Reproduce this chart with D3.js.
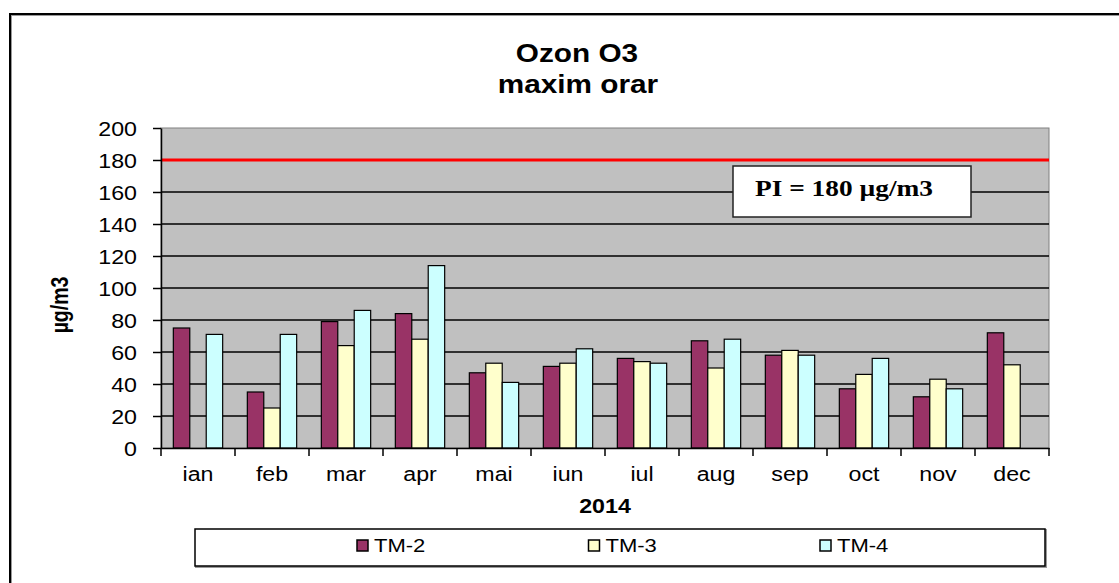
<!DOCTYPE html>
<html>
<head>
<meta charset="utf-8">
<script src="https://cdn.jsdelivr.net/npm/d3@7"></script>
<style>
  body { margin: 0; background: #fff; }
  svg { display: block; font-family: Arial, "Liberation Sans", sans-serif; }
</style>
</head>
<body>
<svg width="1119" height="583"></svg>
<script>
// data
var months = ['ian', 'feb', 'mar', 'apr', 'mai', 'iun', 'iul', 'aug', 'sep', 'oct', 'nov', 'dec'];
var seriesNames = ['TM-2', 'TM-3', 'TM-4'];
var tm2 = [75, 35, 79, 84, 47, 51, 56, 67, 58, 37, 32, 72];
var tm3 = [null, 25, 64, 68, 53, 53, 54, 50, 61, 46, 43, 52];
var tm4 = [71, 71, 86, 114, 41, 62, 53, 68, 58, 56, 37, null];
var yTicks = [0, 20, 40, 60, 80, 100, 120, 140, 160, 180, 200];
var limitValue = 180;
var limitLabel = 'PI = 180 \u00B5g/m3';

var colors = {'TM-2': '#993366', 'TM-3': '#FFFFCC', 'TM-4': '#CCFFFF'};
var sx = 1.19; // the original picture is stretched sideways

var svg = d3.select('svg');
var plot = {l: 161, r: 1049, t: 128, b: 448};

// outer chart frame
svg.append('rect')
  .attr('x', 11).attr('y', 15).attr('width', 1200).attr('height', 700)
  .attr('fill', 'none').attr('stroke', '#999').attr('stroke-width', 2);
svg.append('rect')
  .attr('x', 10).attr('y', 14).attr('width', 1200).attr('height', 700)
  .attr('fill', 'none').attr('stroke', '#000').attr('stroke-width', 2);

var xScale = d3.scaleBand()
  .domain(months)
  .range([plot.l, plot.r]);

var xInner = d3.scaleBand()
  .domain(seriesNames)
  .range([0, xScale.bandwidth()])
  .paddingInner(0)
  .paddingOuter(0.75);

var yScale = d3.scaleLinear()
  .domain([0, 200])
  .range([plot.b, plot.t]);

function stretchedText(sel, x, y, txt) {
  return sel.append('text')
    .attr('transform', 'translate(' + [x, y] + ') scale(' + sx + ',1)')
    .text(txt);
}

// title
var title = svg.append('g').attr('font-weight', 'bold').attr('font-size', 25).attr('text-anchor', 'middle');
stretchedText(title, 577, 62, 'Ozon O3');
stretchedText(title, 578, 93, 'maxim orar');

// plot area
svg.append('rect')
  .attr('x', plot.l).attr('y', plot.t)
  .attr('width', plot.r - plot.l).attr('height', plot.b - plot.t)
  .attr('fill', '#C0C0C0').attr('stroke', '#808080').attr('stroke-width', 1);

svg.append('g')
  .selectAll('line')
  .data(yTicks.filter(d => d > 0 && d < 200))
  .enter()
  .append('line')
  .attr('x1', plot.l).attr('x2', plot.r)
  .attr('y1', d => yScale(d)).attr('y2', d => yScale(d))
  .attr('stroke', '#000').attr('stroke-width', 1.5);

// limit line
svg.append('line')
  .attr('x1', plot.l).attr('x2', plot.r)
  .attr('y1', yScale(limitValue)).attr('y2', yScale(limitValue))
  .attr('stroke', '#FF0000').attr('stroke-width', 3);

// bars
var rows = months.map(function(m, i) {
  return {month: m, values: [tm2[i], tm3[i], tm4[i]]};
});

var groups = svg.append('g').selectAll('g.month')
  .data(rows)
  .enter()
  .append('g')
  .attr('class', 'month')
  .attr('transform', d => 'translate(' + xScale(d.month) + ',0)');

groups.selectAll('rect')
  .data(d => d.values.map((v, j) => ({name: seriesNames[j], value: v})).filter(e => e.value != null))
  .enter()
  .append('rect')
  .attr('x', d => xInner(d.name))
  .attr('y', d => yScale(d.value))
  .attr('width', xInner.bandwidth())
  .attr('height', d => yScale(0) - yScale(d.value))
  .attr('fill', d => colors[d.name])
  .attr('stroke', '#000').attr('stroke-width', 1.2);

// PI box
svg.append('rect')
  .attr('x', 733).attr('y', 166).attr('width', 238).attr('height', 51)
  .attr('fill', '#fff').attr('stroke', '#222').attr('stroke-width', 1.5);
svg.append('text')
  .attr('transform', 'translate(755,196) scale(' + sx + ',1)')
  .attr('font-family', '"Liberation Serif", "Times New Roman", serif')
  .attr('font-weight', 'bold').attr('font-size', 23)
  .text(limitLabel);

// axes
var yAxis = svg.append('g')
  .attr('transform', 'translate(' + plot.l + ',0)')
  .call(d3.axisLeft(yScale).tickValues(yTicks).tickSize(8).tickSizeOuter(0));
yAxis.select('.domain').attr('stroke-width', 1.5);
yAxis.selectAll('.tick line').attr('stroke-width', 1.5);
yAxis.selectAll('.tick text')
  .attr('x', -24 / sx)
  .attr('dy', '0.36em')
  .attr('transform', 'scale(' + sx + ',1)')
  .attr('font-size', 19.5)
  .attr('font-family', 'Arial, "Liberation Sans", sans-serif')
  .attr('fill', '#000');

var xAxis = svg.append('g')
  .attr('transform', 'translate(0,' + plot.b + ')')
  .call(d3.axisBottom(xScale).tickSize(0).tickSizeOuter(0));
xAxis.select('.domain').attr('stroke-width', 1.5);
xAxis.selectAll('.tick text')
  .attr('y', 33).attr('dy', 0)
  .attr('transform', 'scale(' + sx + ',1)')
  .attr('font-size', 19.5)
  .attr('font-family', 'Arial, "Liberation Sans", sans-serif')
  .attr('fill', '#000');

// category boundary ticks
svg.append('g')
  .selectAll('line')
  .data(months.map(m => xScale(m)).concat([plot.r]))
  .enter()
  .append('line')
  .attr('x1', d => d).attr('x2', d => d)
  .attr('y1', plot.b).attr('y2', plot.b + 8)
  .attr('stroke', '#000').attr('stroke-width', 1.5);

// axis titles
var axisTitles = svg.append('g').attr('font-weight', 'bold').attr('font-size', 19.5).attr('text-anchor', 'middle');
stretchedText(axisTitles, 605, 513, '2014');
axisTitles.append('text')
  .attr('transform', 'translate(68,305) scale(' + sx + ',1) rotate(-90)')
  .text('\u00B5g/m3');

// legend
var legend = svg.append('g');
legend.append('rect')
  .attr('x', 195).attr('y', 529).attr('width', 850).attr('height', 37)
  .attr('fill', 'none').attr('stroke', '#999').attr('stroke-width', 2)
  .attr('transform', 'translate(1,1)');
legend.append('rect')
  .attr('x', 195).attr('y', 529).attr('width', 850).attr('height', 37)
  .attr('fill', '#fff').attr('stroke', '#000').attr('stroke-width', 1.5);

var legendX = d3.scalePoint().domain(seriesNames).range([357, 820]);
var items = legend.selectAll('g.item')
  .data(seriesNames)
  .enter()
  .append('g')
  .attr('class', 'item')
  .attr('transform', d => 'translate(' + legendX(d) + ',0)');
items.append('rect')
  .attr('x', 0).attr('y', 540).attr('width', 11).attr('height', 11)
  .attr('fill', d => colors[d]).attr('stroke', '#000').attr('stroke-width', 1.5);
items.append('text')
  .attr('transform', 'translate(17,552) scale(' + sx + ',1)')
  .attr('font-size', 18.5)
  .text(d => d);
</script>
</body>
</html>
